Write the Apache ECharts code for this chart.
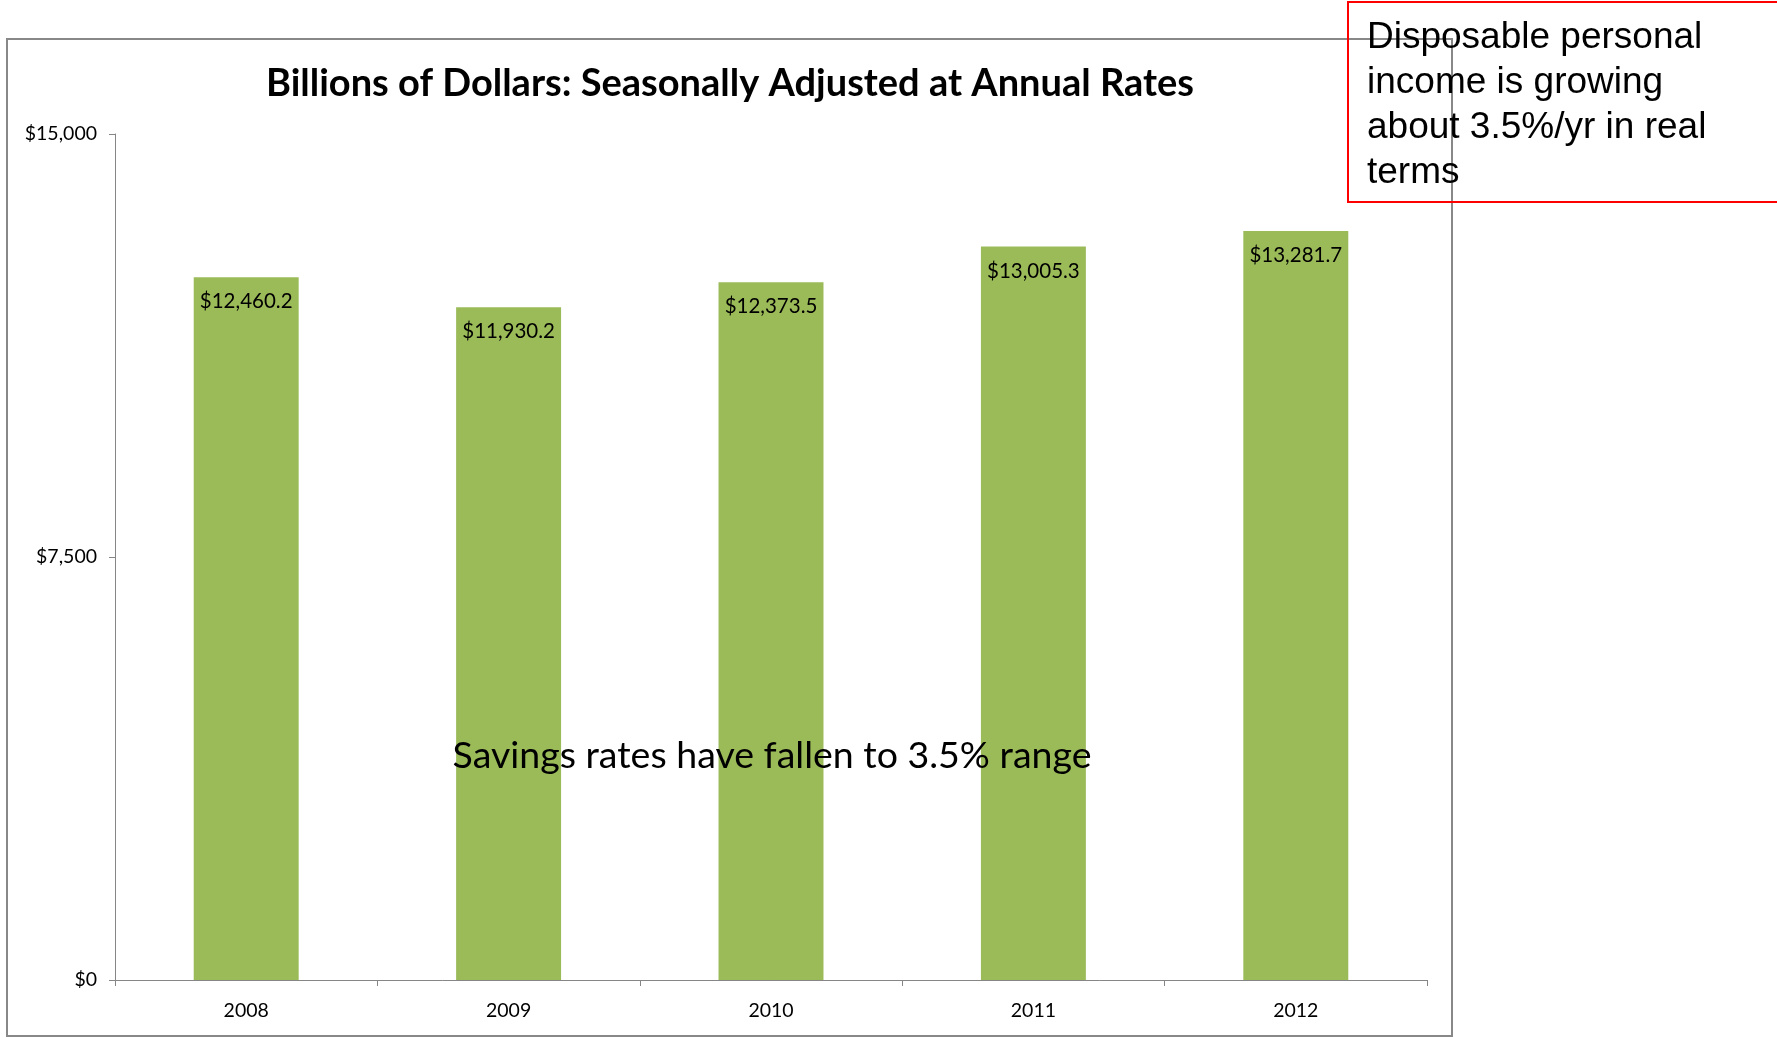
<!DOCTYPE html>
<html><head><meta charset="utf-8">
<script src="https://cdn.jsdelivr.net/npm/echarts@6/dist/echarts.min.js"></script>
<style>html,body{margin:0;padding:0;background:#fff}#c{width:1777px;height:1038px}</style>
</head><body><div id="c"></div>
<script>
const categories = ['2008', '2009', '2010', '2011', '2012'];
const incomeValues = [12460.2, 11930.2, 12373.5, 13005.3, 13281.7];
const yTicks = [0, 7500, 15000];
const titleText = 'Billions of Dollars: Seasonally Adjusted at Annual Rates';
const noteText = 'Savings rates have fallen to 3.5% range';
const boxLines = ['Disposable personal', 'income is growing', 'about 3.5%/yr in real', 'terms'];

const fmt = v => '$' + v.toLocaleString('en-US');
const fmtLabel = v => '$' + v.toLocaleString('en-US', {minimumFractionDigits: 1, maximumFractionDigits: 1});
const chart = echarts.init(document.getElementById('c'));
chart.setOption({
  animation: false,
  backgroundColor: '#fff',
  textStyle: {fontFamily: 'Lato'},
  title: {
    text: titleText, left: 725, top: 60, textAlign: 'center',
    textStyle: {fontFamily: 'Lato', fontWeight: 'bold', fontSize: 38, color: '#000'}
  },
  grid: {left: 115, right: 350, top: 134, bottom: 58},
  xAxis: {
    type: 'category', data: categories,
    axisLine: {lineStyle: {color: '#868686', width: 1}},
    axisTick: {show: true, length: 6, lineStyle: {color: '#868686'}},
    axisLabel: {color: '#000', fontSize: 19.5, margin: 21, fontFamily: 'Lato'}
  },
  yAxis: {
    type: 'value', min: yTicks[0], max: yTicks[2], interval: yTicks[1] - yTicks[0],
    splitLine: {show: false},
    axisLine: {show: true, lineStyle: {color: '#868686', width: 1}},
    axisTick: {show: true, length: 6, lineStyle: {color: '#868686'}},
    axisLabel: {color: '#000', fontSize: 19.5, margin: 18, fontFamily: 'Lato', formatter: fmt}
  },
  series: [{
    type: 'bar', data: incomeValues, barCategoryGap: '60%',
    itemStyle: {color: '#9BBB59'},
    label: {show: true, position: 'insideTop', distance: 14, color: '#000', fontSize: 20.5,
      fontFamily: 'Lato', formatter: p => fmtLabel(p.value)}
  }],
  graphic: [
    {type: 'rect', shape: {x: 7, y: 39, width: 1445, height: 997}, style: {fill: 'none', stroke: '#888', lineWidth: 2}, z: 10},
    {type: 'text', x: 772, y: 756, style: {text: noteText, fontFamily: 'Lato', fontSize: 37.5, fill: '#000', textAlign: 'center', textVerticalAlign: 'middle'}, z: 20},
    {type: 'rect', shape: {x: 1348, y: 2, width: 460, height: 200}, style: {fill: 'none', stroke: '#ff0000', lineWidth: 2}, z: 20},
    {type: 'text', x: 1367, y: 15, style: {text: boxLines.join('\n'), fontFamily: 'Liberation Sans', fontSize: 37, lineHeight: 45, fill: '#000'}, z: 21}
  ]
});
</script></body></html>
